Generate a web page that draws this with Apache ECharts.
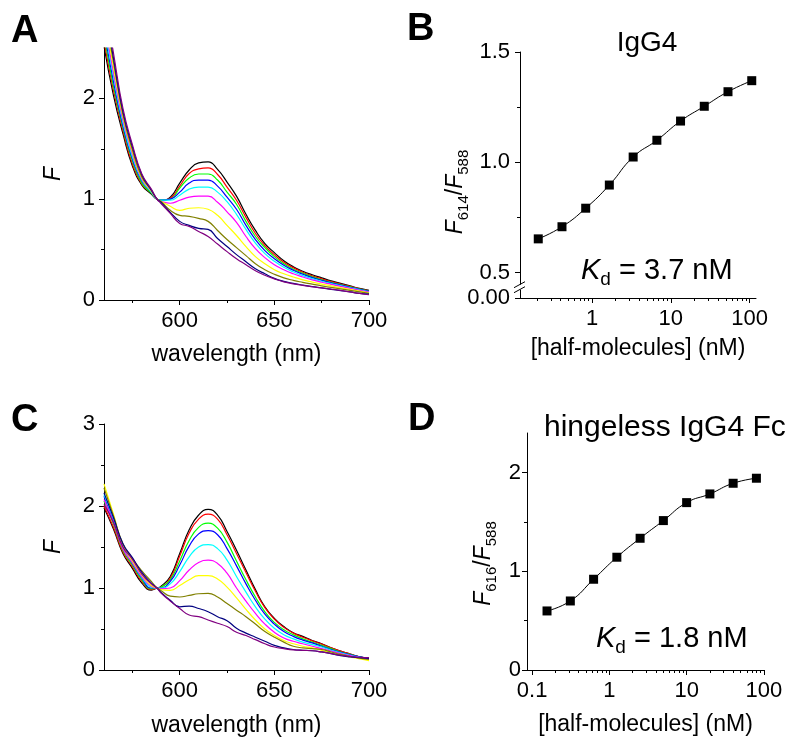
<!DOCTYPE html>
<html><head><meta charset="utf-8">
<script src="https://cdn.jsdelivr.net/npm/echarts@6/dist/echarts.min.js"></script>
<style>html,body{margin:0;padding:0;background:#fff}#c{width:789px;height:741px}</style>
</head><body><div id="c"></div>
<script>
const FONT = "'Liberation Sans', Arial, Helvetica, sans-serif";

// ---- Panel A / C: emission spectra (wavelength in nm) ----
const wavelengths = [560,565,570,575,580,585,588,590,595,600,605,610,615,620,625,630,635,640,645,650,655,660,665,670,675,680,685,690,695,700];
const curveColors = ['#000000','#ff0000','#00ff00','#0000ff','#00ffff','#ff00ff','#ffff00','#808000','#000080','#800080'];

const A_black   = [2.52,2.03,1.65,1.33,1.14,1.05,1.0,0.99,1.02,1.16,1.29,1.36,1.37,1.295,1.17,1.03,0.85,0.69,0.56,0.47,0.39,0.33,0.285,0.25,0.22,0.19,0.165,0.14,0.115,0.095];
const A_red     = [2.57,2.08,1.68,1.35,1.15,1.06,1.0,0.99,1.01,1.13,1.255,1.30,1.31,1.245,1.12,0.99,0.82,0.66,0.54,0.45,0.375,0.32,0.275,0.24,0.21,0.183,0.158,0.135,0.112,0.09];
const A_green   = [2.63,2.12,1.71,1.38,1.16,1.06,1.0,0.99,1.0,1.11,1.21,1.25,1.25,1.19,1.07,0.95,0.78,0.63,0.52,0.43,0.36,0.305,0.265,0.23,0.20,0.175,0.152,0.13,0.108,0.088];
const A_blue    = [2.68,2.17,1.73,1.40,1.18,1.07,1.0,0.99,1.0,1.07,1.16,1.19,1.19,1.13,1.02,0.90,0.74,0.60,0.49,0.41,0.345,0.295,0.255,0.222,0.195,0.17,0.148,0.126,0.105,0.085];
const A_cyan    = [2.73,2.22,1.76,1.42,1.19,1.07,1.0,0.99,0.99,1.04,1.10,1.12,1.12,1.07,0.975,0.85,0.70,0.565,0.46,0.385,0.325,0.28,0.242,0.212,0.186,0.163,0.142,0.121,0.10,0.082];
const A_magenta = [2.79,2.26,1.79,1.45,1.20,1.08,1.0,0.98,0.96,0.99,1.02,1.03,1.03,0.97,0.875,0.77,0.63,0.51,0.42,0.35,0.30,0.26,0.228,0.20,0.176,0.155,0.135,0.115,0.096,0.078];
const A_yellow  = [2.84,2.31,1.82,1.47,1.21,1.08,1.0,0.98,0.93,0.89,0.91,0.915,0.90,0.84,0.74,0.64,0.53,0.43,0.36,0.30,0.26,0.228,0.20,0.178,0.158,0.14,0.122,0.105,0.088,0.072];
const A_olive   = [2.89,2.36,1.84,1.49,1.22,1.09,1.0,0.98,0.89,0.84,0.83,0.81,0.78,0.69,0.60,0.52,0.44,0.36,0.30,0.255,0.22,0.195,0.175,0.157,0.14,0.125,0.11,0.095,0.08,0.066];
const A_navy    = [2.95,2.40,1.87,1.52,1.24,1.09,1.0,0.97,0.87,0.78,0.74,0.71,0.70,0.61,0.53,0.45,0.38,0.31,0.26,0.215,0.185,0.165,0.148,0.133,0.12,0.106,0.093,0.08,0.066,0.058];
const A_purple  = [3.0,2.45,1.90,1.54,1.25,1.10,1.0,0.96,0.86,0.76,0.73,0.68,0.63,0.555,0.48,0.41,0.35,0.29,0.245,0.21,0.18,0.16,0.145,0.132,0.12,0.108,0.095,0.08,0.065,0.052];

const C_black   = [1.98,1.72,1.42,1.24,1.06,0.975,1.0,1.02,1.14,1.42,1.71,1.89,1.96,1.89,1.69,1.46,1.22,0.98,0.77,0.63,0.53,0.455,0.41,0.36,0.32,0.27,0.23,0.195,0.16,0.14];
const C_red     = [2.0,1.74,1.44,1.26,1.08,0.98,1.0,1.01,1.12,1.39,1.67,1.84,1.90,1.84,1.65,1.42,1.19,0.96,0.76,0.62,0.52,0.45,0.40,0.355,0.315,0.27,0.23,0.195,0.16,0.14];
const C_green   = [2.06,1.78,1.46,1.28,1.10,0.99,1.0,1.01,1.10,1.33,1.58,1.74,1.79,1.73,1.56,1.33,1.10,0.89,0.71,0.58,0.49,0.43,0.38,0.34,0.30,0.26,0.22,0.19,0.16,0.14];
const C_blue    = [2.12,1.82,1.49,1.30,1.12,1.0,1.0,1.0,1.08,1.28,1.51,1.66,1.70,1.65,1.48,1.27,1.05,0.85,0.68,0.56,0.47,0.41,0.365,0.33,0.29,0.25,0.215,0.185,0.16,0.14];
const C_cyan    = [2.14,1.84,1.50,1.31,1.13,1.01,1.0,1.0,1.05,1.20,1.38,1.50,1.53,1.48,1.34,1.14,0.95,0.77,0.62,0.51,0.43,0.38,0.34,0.31,0.28,0.24,0.21,0.18,0.155,0.135];
const C_magenta = [2.08,1.80,1.48,1.31,1.14,1.02,1.0,0.99,1.0,1.09,1.22,1.31,1.34,1.30,1.18,1.0,0.84,0.69,0.56,0.46,0.39,0.35,0.32,0.29,0.26,0.23,0.20,0.175,0.15,0.13];
const C_yellow  = [2.27,1.90,1.52,1.33,1.16,1.03,1.0,0.98,0.97,1.03,1.10,1.15,1.15,1.11,1.01,0.88,0.74,0.61,0.50,0.42,0.36,0.32,0.29,0.27,0.24,0.21,0.185,0.16,0.135,0.115];
const C_olive   = [2.22,1.88,1.54,1.36,1.21,1.08,1.0,0.97,0.90,0.89,0.91,0.93,0.935,0.89,0.81,0.73,0.65,0.56,0.47,0.40,0.34,0.29,0.27,0.26,0.25,0.22,0.19,0.165,0.145,0.13];
const C_navy    = [2.16,1.86,1.54,1.37,1.19,1.06,1.0,0.95,0.85,0.77,0.78,0.75,0.71,0.65,0.60,0.51,0.45,0.40,0.35,0.30,0.27,0.25,0.24,0.235,0.22,0.20,0.175,0.16,0.15,0.14];
const C_purple  = [2.02,1.80,1.50,1.35,1.17,1.05,1.0,0.94,0.84,0.75,0.67,0.65,0.61,0.57,0.53,0.46,0.42,0.37,0.32,0.28,0.26,0.245,0.24,0.235,0.22,0.20,0.18,0.165,0.155,0.15];

const spectraA = [A_black,A_red,A_green,A_blue,A_cyan,A_magenta,A_yellow,A_olive,A_navy,A_purple];
const spectraC = [C_black,C_red,C_green,C_blue,C_cyan,C_magenta,C_yellow,C_olive,C_navy,C_purple];

// ---- Panel B / D: titration (half-molecule concentration, nM) ----
const concB  = [0.208,0.416,0.832,1.66,3.33,6.66,13.3,26.6,53.2,106.5];
const ratioB = [0.653,0.708,0.792,0.897,1.024,1.100,1.187,1.254,1.320,1.370];
const concD  = [0.156,0.3125,0.625,1.25,2.5,5,10,20,40,80];
const ratioD = [0.598,0.699,0.919,1.142,1.334,1.513,1.695,1.783,1.891,1.942];

// ---- ticks / labels ----
const wlMajor = [600,650,700];
const wlMinor = [575,625,675];
const aYMajor = [0,1,2],  aYMinor = [0.5,1.5];
const cYMajor = [0,1,2,3], cYMinor = [0.5,1.5,2.5];
const bYMajor = [0.385,0.5,1.0,1.5], bYMinor = [0.75,1.25];
const dYMajor = [0,1,2], dYMinor = [0.5,1.5];
const bXMajor = [1,10,100];
const dXMajor = [0.1,1,10,100];
const logMinor = [0.2,0.3,0.4,0.5,0.6,0.7,0.8,0.9,2,3,4,5,6,7,8,9,20,30,40,50,60,70,80,90];

const panelLetters = ['A','B','C','D'];
const panelTitles = ['IgG4','hingeless IgG4 Fc'];
const kdValues = ['3.7 nM','1.8 nM'];
const xNameSpec = 'wavelength (nm)';
const xNameConc = '[half-molecules] (nM)';

const grids = [
  {left:104, top:48, width:265, height:252},
  {left:520, top:52, width:236, height:246},
  {left:104, top:424, width:265, height:246},
  {left:527, top:433, width:237, height:237}
];
grids.forEach(g => { g.containLabel = false; g.outerBoundsMode = 'none'; });

const labelStyle = {color:'#000', fontSize:22, fontFamily:FONT};

function mainX(grid, type, min, max, major, fmt, name, gap) {
  return {
    gridIndex:grid, type, min, max, position:'bottom',
    axisLine:{show:true, onZero:false, lineStyle:{color:'#000', width:1}},
    axisTick:{show:true, inside:false, length:5, customValues:major, lineStyle:{color:'#000', width:1}},
    axisLabel:Object.assign({show:true, margin:10, customValues:major, formatter:fmt, hideOverlap:false}, labelStyle),
    splitLine:{show:false}, minorTick:{show:false}, minorSplitLine:{show:false},
    name, nameLocation:'middle', nameGap:gap, nameMoveOverlap:false,
    nameTextStyle:{color:'#000', fontSize:23, fontFamily:FONT}
  };
}
function minorX(grid, type, min, max, ticks) {
  return {
    gridIndex:grid, type, min, max, position:'bottom',
    axisLine:{show:false, onZero:false},
    axisTick:{show:true, inside:false, length:3, customValues:ticks, lineStyle:{color:'#000', width:1}},
    axisLabel:{show:false}, splitLine:{show:false}
  };
}
function mainY(grid, min, max, major, fmt, name, gap, nameStyle, margin) {
  return {
    gridIndex:grid, type:'value', min, max, position:'left',
    axisLine:{show:true, onZero:false, lineStyle:{color:'#000', width:1}},
    axisTick:{show:true, inside:false, length:5, customValues:major, lineStyle:{color:'#000', width:1}},
    axisLabel:Object.assign({show:true, margin:margin, customValues:major, formatter:fmt}, labelStyle),
    splitLine:{show:false},
    name, nameLocation:'middle', nameGap:gap, nameRotate:90, nameMoveOverlap:false,
    nameTextStyle:nameStyle
  };
}
function minorY(grid, min, max, ticks) {
  return {
    gridIndex:grid, type:'value', min, max, position:'left',
    axisLine:{show:false, onZero:false},
    axisTick:{show:true, inside:false, length:3, customValues:ticks, lineStyle:{color:'#000', width:1}},
    axisLabel:{show:false}, splitLine:{show:false}
  };
}

const fStyle = {color:'#000', fontSize:23, fontStyle:'italic', fontFamily:FONT};
function ratioNameStyle(padRight) {
  return {
    color:'#000', fontFamily:FONT, padding:[0,padRight,0,0],
    rich:{
      i:{fontSize:23, fontStyle:'italic', lineHeight:30, fontFamily:FONT, color:'#000'},
      n:{fontSize:23, lineHeight:30, fontFamily:FONT, color:'#000'},
      s:{fontSize:15, lineHeight:6, verticalAlign:'bottom', fontFamily:FONT, color:'#000'}
    }
  };
}

const bMinX = 0.122, bMaxX = 120.6;
const dMinX = 0.0859, dMaxX = 100.3;
const intFmt = v => String(Math.round(v));
const logFmt = v => (v < 1 ? String(+v.toFixed(2)) : String(Math.round(v)));
const bYFmt = v => (v < 0.45 ? '0.00' : v.toFixed(1));

const xAxes = [
  mainX(0,'value',560,700,wlMajor,intFmt,xNameSpec,43),
  minorX(0,'value',560,700,wlMinor),
  mainX(1,'log',bMinX,bMaxX,bXMajor,logFmt,xNameConc,39),
  minorX(1,'log',bMinX,bMaxX,logMinor),
  mainX(2,'value',560,700,wlMajor,intFmt,xNameSpec,44),
  minorX(2,'value',560,700,wlMinor),
  mainX(3,'log',dMinX,dMaxX,dXMajor,logFmt,xNameConc,43),
  minorX(3,'log',dMinX,dMaxX,logMinor)
];
const yAxes = [
  mainY(0,0,2.5,aYMajor,intFmt,'F',39,fStyle,9),
  minorY(0,0,2.5,aYMinor),
  mainY(1,0.385,1.5,bYMajor,bYFmt,'{i|F}{s|614}{n|/}{i|F}{s|588}',49,ratioNameStyle(34),10),
  minorY(1,0.385,1.5,bYMinor),
  mainY(2,0,3,cYMajor,intFmt,'F',39,fStyle,9),
  minorY(2,0,3,cYMinor),
  mainY(3,0,2.4,dYMajor,intFmt,'{i|F}{s|616}{n|/}{i|F}{s|588}',28,ratioNameStyle(24),6),
  minorY(3,0,2.4,dYMinor)
];

const series = [];
spectraA.forEach((arr, k) => series.push({
  type:'line', xAxisIndex:0, yAxisIndex:0, showSymbol:false, symbol:'none',
  smooth:0.5, clip:true,
  data: wavelengths.map((w, i) => [w, arr[i]]),
  lineStyle:{color:curveColors[k], width:1.2}, itemStyle:{color:curveColors[k]}
}));
spectraC.forEach((arr, k) => series.push({
  type:'line', xAxisIndex:4, yAxisIndex:4, showSymbol:false, symbol:'none',
  smooth:0.5, clip:true,
  data: wavelengths.map((w, i) => [w, arr[i]]),
  lineStyle:{color:curveColors[k], width:1.2}, itemStyle:{color:curveColors[k]}
}));
series.push({
  type:'line', xAxisIndex:2, yAxisIndex:2, smooth:true, symbol:'rect', symbolSize:9, showSymbol:true,
  data: concB.map((c, i) => [c, ratioB[i]]),
  lineStyle:{color:'#000', width:1}, itemStyle:{color:'#000'}
});
series.push({
  type:'line', xAxisIndex:6, yAxisIndex:6, smooth:true, symbol:'rect', symbolSize:9, showSymbol:true,
  data: concD.map((c, i) => [c, ratioD[i]]),
  lineStyle:{color:'#000', width:1}, itemStyle:{color:'#000'}
});

const chart = echarts.init(document.getElementById('c'), null, {renderer:'canvas'});
chart.setOption({
  animation:false, backgroundColor:'#fff',
  grid:grids, xAxis:xAxes, yAxis:yAxes, series
});

function txt(x, y, text, size, extra) {
  return {
    type:'text', x, y, z:100,
    style:Object.assign({
      text, fill:'#000', fontSize:size, fontFamily:FONT,
      align:'left', verticalAlign:'middle', textAlign:'left', textVerticalAlign:'middle'
    }, extra || {})
  };
}
function kdText(x, y, val) {
  return {
    type:'text', x, y, z:100,
    style:{
      text:'{k|K}{d|d}{t| = ' + val + '}',
      align:'left', verticalAlign:'middle', textAlign:'left', textVerticalAlign:'middle',
      rich:{
        k:{fontSize:29, fontStyle:'italic', lineHeight:36, fontFamily:FONT, fill:'#000', color:'#000'},
        d:{fontSize:19, lineHeight:14, verticalAlign:'bottom', fontFamily:FONT, fill:'#000', color:'#000'},
        t:{fontSize:29, lineHeight:36, fontFamily:FONT, fill:'#000', color:'#000'}
      }
    }
  };
}

const brk = chart.convertToPixel({xAxisIndex:2, yAxisIndex:2}, [bMinX, 0.434]);
const ax = brk[0], yc = brk[1];

const graphics = [
  txt(11, 32, panelLetters[0], 38, {fontWeight:'bold'}),
  txt(407, 30, panelLetters[1], 38, {fontWeight:'bold'}),
  txt(11, 421, panelLetters[2], 38, {fontWeight:'bold'}),
  txt(408, 420, panelLetters[3], 38, {fontWeight:'bold'}),
  txt(647, 43.5, panelTitles[0], 28, {align:'center', textAlign:'center'}),
  txt(544, 428, panelTitles[1], 30),
  kdText(581, 271, kdValues[0]),
  kdText(596, 639, kdValues[1]),
  {type:'rect', z:100, shape:{x:ax-3, y:yc-2.5, width:6, height:5}, style:{fill:'#fff'}},
  {type:'line', z:101, shape:{x1:ax-6, y1:yc+0.5, x2:ax+5, y2:yc-5.5}, style:{stroke:'#000', lineWidth:1}},
  {type:'line', z:101, shape:{x1:ax-6, y1:yc+5.5, x2:ax+5, y2:yc-0.5}, style:{stroke:'#000', lineWidth:1}}
];
chart.setOption({graphic:graphics});
</script>
</body></html>
